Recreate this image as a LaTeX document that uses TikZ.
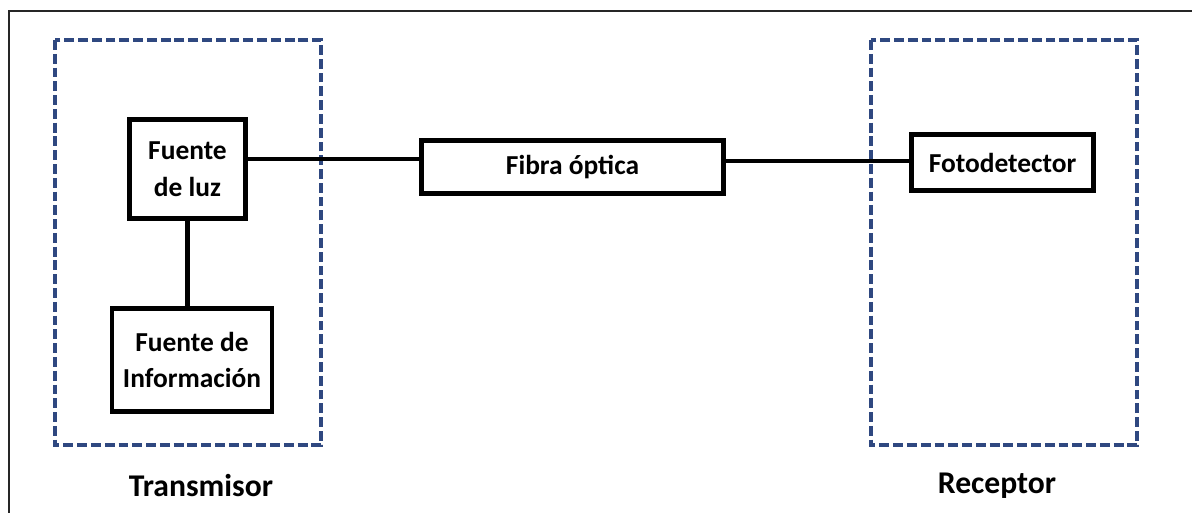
\documentclass[tikz,border=0pt]{standalone}
\usepackage{fontspec}
\setmainfont{Carlito}
\usetikzlibrary{positioning}

\definecolor{grupoazul}{RGB}{47,72,128}

\tikzset{
  bloque/.style={draw=black, line width=3.2pt, fill=white, align=center,
    font=\bfseries\fontsize{19.5}{26}\selectfont, inner sep=2pt},
  grupo/.style={draw=grupoazul, line width=2.4pt, dash pattern=on 7pt off 2.8pt},
  enlace/.style={draw=black, line width=3pt},
  rotulo/.style={font=\bfseries\fontsize{22.5}{26}\selectfont}
}

\begin{document}
\begin{tikzpicture}[x=0.025cm,y=-0.025cm]
  \useasboundingbox (0,0) rectangle (1192,513);

  % marco exterior
  \draw[line width=1.6pt, black!85] (9,513) -- (9,11) -- (1192,11);

  % zonas de transmisor y receptor
  \draw[grupo] (55,40) rectangle (321,445);
  \draw[grupo] (871,40) rectangle (1137,445);

  % bloques
  \node[bloque, minimum width=2.9cm, minimum height=2.48cm] (luz) at (187.5,169) {Fuente\\de luz};
  \node[bloque, minimum width=4cm, minimum height=2.58cm] (info) at (192,360) {Fuente de\\Información};
  \node[bloque, minimum width=7.55cm, minimum height=1.33cm] (fibra) at (572.5,167) {Fibra óptica};
  \node[bloque, minimum width=4.55cm, minimum height=1.4cm] (foto) at (1002.5,162.5) {Fotodetector};

  % conexiones
  \draw[enlace] (luz.south) -- (luz.south |- info.north);
  \draw[enlace] ([yshift=2.5mm]luz.east) -- ([yshift=2.5mm]luz.east -| fibra.west);
  \draw[enlace] ([yshift=1.5mm]fibra.east) -- ([yshift=1.5mm]fibra.east -| foto.west);

  % rotulos
  \node[rotulo] (tx) at (201,486) {Transmisor};
  \node[rotulo] (rx) at (997,486) {Receptor};
\end{tikzpicture}
\end{document}
